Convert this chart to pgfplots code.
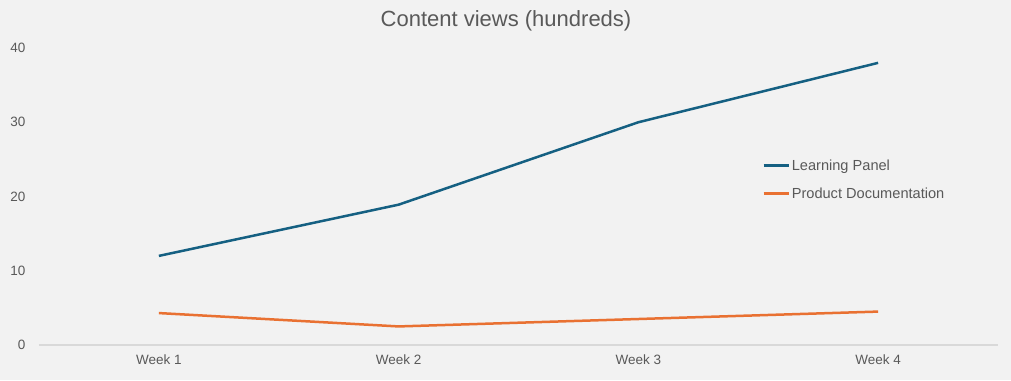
\documentclass[border=0pt]{standalone}
\usepackage{pgfplots}
\pgfplotsset{compat=1.18}
\usepackage{fontspec}
\setmainfont{Liberation Sans}
\definecolor{bgc}{HTML}{F2F2F2}
\definecolor{txt}{HTML}{595959}
\definecolor{gridc}{HTML}{D9D9D9}
\definecolor{blueL}{HTML}{156082}
\definecolor{orangeL}{HTML}{E97132}
\begin{document}
\begin{tikzpicture}
\fill[bgc] (0pt,0pt) rectangle (1011pt,380pt);
\begin{axis}[
  at={(39pt,35pt)}, anchor=south west,
  scale only axis, width=959pt, height=297pt,
  xmin=-0.5, xmax=3.5, ymin=0, ymax=40,
  xtick={0,1,2,3}, xticklabels={Week 1,Week 2,Week 3,Week 4},
  ytick={0,10,20,30,40},
  major tick length=0pt,
  axis line style={draw=none},
  clip=false,
  /pgf/number format/assume math mode=true,
  tick label style={font=\fontsize{13.5}{16}\selectfont, text=txt},
  yticklabel style={xshift=-10pt},
  xticklabel style={yshift=-6pt},
  extra y ticks={0}, extra y tick labels={},
  extra y tick style={ymajorgrids=true, major grid style={color=gridc, line width=1.2pt}},
  legend style={at={(0.754,0.632)}, anchor=north west, draw=none, fill=none,
    font=\fontsize{14.6}{17}\selectfont, text=txt, row sep=12pt, inner sep=0pt,
    nodes={inner sep=2pt}},
  legend cell align=left,
  legend image code/.code={\draw[#1] (0pt,0pt) -- (25pt,0pt);},
]
\addplot[color=blueL, line width=2.5pt] coordinates {(0,12) (1,18.9) (2,30) (3,38)};
\addlegendentry{Learning Panel}
\addplot[color=orangeL, line width=2.5pt] coordinates {(0,4.3) (1,2.5) (2,3.5) (3,4.5)};
\addlegendentry{Product Documentation}
\end{axis}
\node[text=txt, font=\fontsize{22}{26}\selectfont] at (506pt,359pt) {Content views (hundreds)};
\end{tikzpicture}
\end{document}
